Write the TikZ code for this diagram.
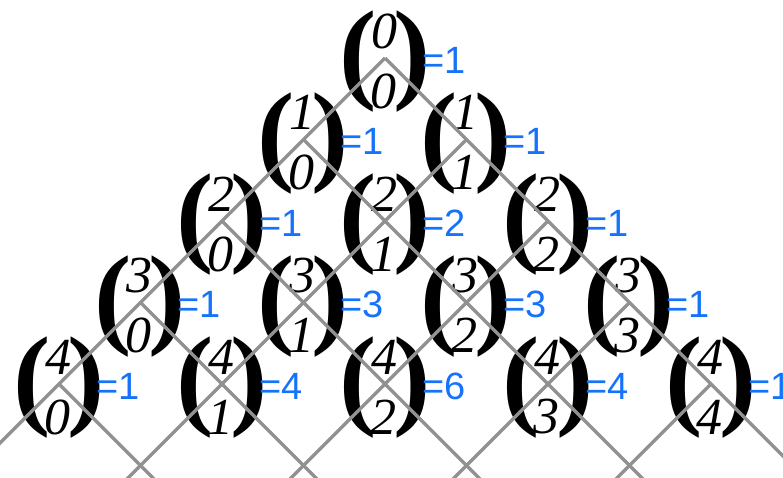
\documentclass[tikz,border=0pt]{standalone}
\usepackage{fontspec}
\setmainfont{Liberation Serif}
\newfontfamily\valfont{Liberation Sans}
\definecolor{valblue}{RGB}{20,115,250}
\definecolor{linegray}{RGB}{145,145,145}
\tikzset{
  digit/.style={inner sep=0pt, font=\fontsize{52}{52}\selectfont\itshape},
  paren/.style={inner sep=0pt, font=\fontsize{112}{112}\selectfont\bfseries},
  val/.style={inner sep=0pt, anchor=west, text=valblue, font=\valfont\fontsize{38}{38}\selectfont},
  lattice/.style={draw=linegray, line width=3.4pt},
}
\begin{document}
\begin{tikzpicture}[x=1pt,y=-1pt]
\clip (0,0) rectangle (783,477);
\foreach \n/\k/\v in {0/0/1,1/0/1,1/1/1,2/0/1,2/1/2,2/2/1,3/0/1,3/1/3,3/2/3,3/3/1,4/0/1,4/1/4,4/2/6,4/3/4,4/4/1}{
  \coordinate (c\n\k) at ({385+81.5*(2*\k-\n)},{58+81.5*\n});
  \node[paren] (l\n\k) at ([shift={(-27,4)}]c\n\k) {(};
  \node[paren] (r\n\k) at ([shift={(27,4)}]c\n\k) {)};
  \node[digit] (t\n\k) at ([shift={(-1,-27)}]c\n\k) {\n};
  \node[digit] (u\n\k) at ([shift={(-2,33)}]c\n\k) {\k};
  \node[val] (v\n\k) at ([shift={(37,2)}]c\n\k) {=\v};
}
\foreach \m in {0,...,4}{
  \coordinate (eL\m) at ([shift={(-500,500)}]c\m\m);
  \coordinate (eR\m) at ([shift={(500,500)}]c\m0);
  \draw[lattice] (c\m\m) -- (eL\m);
  \draw[lattice] (c\m0) -- (eR\m);
}
\end{tikzpicture}
\end{document}
